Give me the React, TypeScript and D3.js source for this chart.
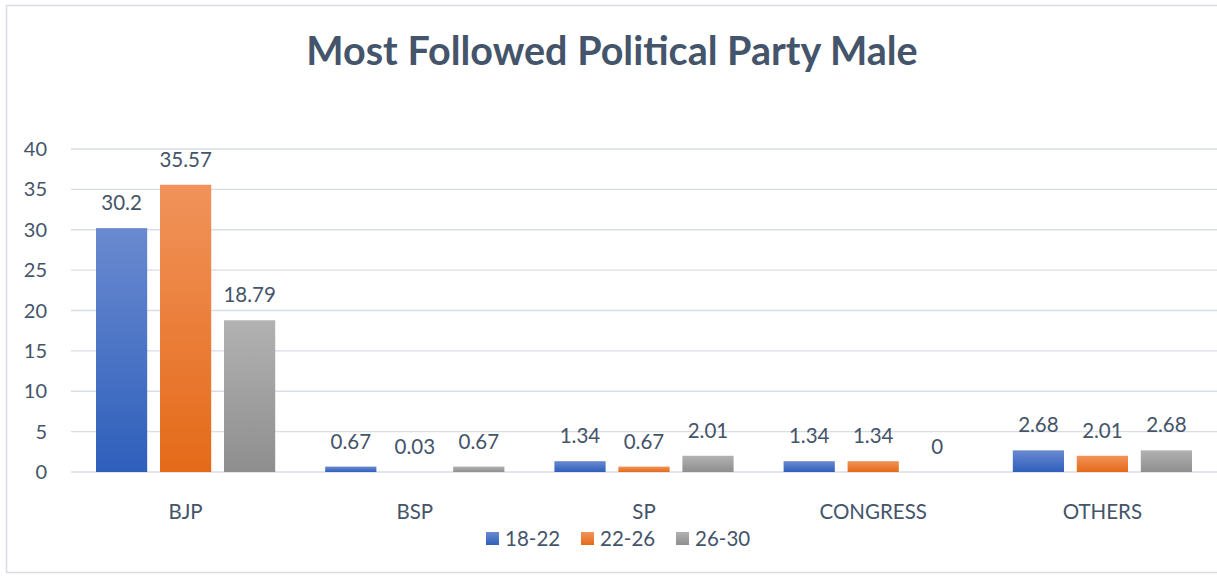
import React from 'react';
import * as d3 from 'd3';

const categories = ['BJP', 'BSP', 'SP', 'CONGRESS', 'OTHERS'];
const seriesNames = ['18-22', '22-26', '26-30'];
const age18to22 = [30.2, 0.67, 1.34, 1.34, 2.68];
const age22to26 = [35.57, 0.03, 0.67, 1.34, 2.01];
const age26to30 = [18.79, 0.67, 2.01, 0, 2.68];
const yTicks = [0, 5, 10, 15, 20, 25, 30, 35, 40];

const W = 1217;
const H = 576;
const textColor = '#44546a';
const font = 'Lato, "Open Sans", sans-serif';

// top / bottom colours of the bar gradients
const gradients = [
  ['#6a8ad0', '#2e5fbb'],
  ['#f1935b', '#e46a18'],
  ['#b2b2b2', '#8e8e8e'],
];

const App: React.FC = () => {
  const series = [age18to22, age22to26, age26to30];

  const x = d3.scaleBand<string>().domain(categories).range([71, 1217]);
  const y = d3.scaleLinear().domain([0, 40]).range([472, 149]);
  const inner = d3
    .scaleBand<number>()
    .domain([0, 1, 2])
    .range([25, x.bandwidth() - 25])
    .paddingInner(0.2);

  const legendX = [486, 581, 676];

  return (
    <svg width={W} height={H} style={{ position: 'absolute', left: 0, top: 0 }} fontFamily={font}>
      <defs>
        {gradients.map((g, i) => (
          <linearGradient key={i} id={`grad${i}`} x1="0" y1="0" x2="0" y2="1">
            <stop offset="0%" stopColor={g[0]} />
            <stop offset="100%" stopColor={g[1]} />
          </linearGradient>
        ))}
      </defs>
      <rect x={0} y={0} width={W} height={H} fill="#fff" />
      <rect x={6.5} y={5.5} width={W + 10} height={567} fill="none" stroke="#d9dce1" strokeWidth={1.5} />

      <text x={612} y={65} textAnchor="middle" fontSize={39.5} fontWeight="bold" fill={textColor}>
        Most Followed Political Party Male
      </text>

      {yTicks.map((t) => (
        <g key={t}>
          <line x1={71} x2={W} y1={y(t)} y2={y(t)} stroke="#d9dde4" strokeWidth={1.3} />
          <text x={47} y={y(t) + 7} textAnchor="end" fontSize={20} fill={textColor}>
            {t}
          </text>
        </g>
      ))}

      {categories.map((c, ci) => (
        <g key={c} transform={`translate(${x(c)},0)`}>
          {series.map((s, si) => {
            const v = s[ci];
            const bx = inner(si) as number;
            return (
              <g key={si}>
                {v > 0.1 && (
                  <rect
                    x={bx}
                    y={y(v)}
                    width={inner.bandwidth()}
                    height={y(0) - y(v)}
                    fill={`url(#grad${si})`}
                  />
                )}
                <text
                  x={bx + inner.bandwidth() / 2}
                  y={y(v) - 18}
                  textAnchor="middle"
                  fontSize={20.5}
                  fill={textColor}
                >
                  {v}
                </text>
              </g>
            );
          })}
          <text x={x.bandwidth() / 2} y={519} textAnchor="middle" fontSize={20.5} fill={textColor}>
            {c}
          </text>
        </g>
      ))}

      {seriesNames.map((n, i) => (
        <g key={n}>
          <rect x={legendX[i]} y={532} width={13} height={13} fill={`url(#grad${i})`} />
          <text x={legendX[i] + 19} y={545.5} fontSize={20.5} fill={textColor}>
            {n}
          </text>
        </g>
      ))}
    </svg>
  );
};

export default App;
